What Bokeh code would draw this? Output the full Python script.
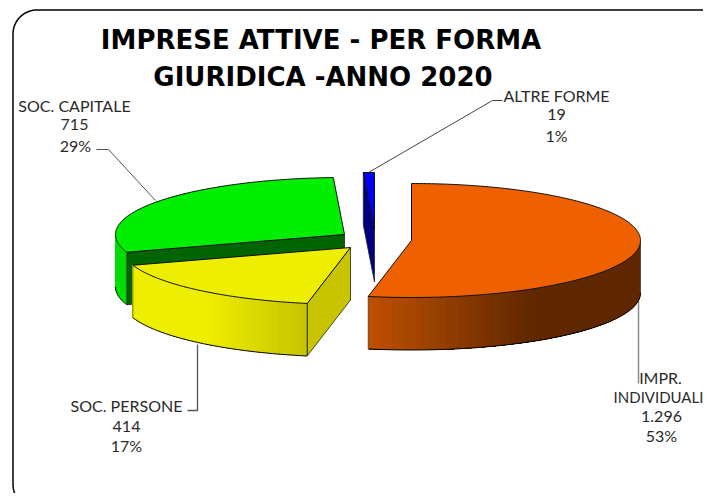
import math
from bokeh.plotting import figure
from bokeh.models import Range1d
from bokeh.core.properties import value
from bokeh.embed import file_html
from bokeh.resources import INLINE

# ---- data ----
categories = ["IMPR. INDIVIDUALI", "SOC. PERSONE", "SOC. CAPITALE", "ALTRE FORME"]
values = [1296, 414, 715, 19]
value_labels = ["1.296", "414", "715", "19"]
percent_labels = ["53%", "17%", "29%", "1%"]
title_lines = ["IMPRESE ATTIVE - PER FORMA", "GIURIDICA -ANNO 2020"]

# ---- layout (picture pixels) ----
RX, RY, DEPTH = 229.0, 57.0, 52.5
apex = [(411, 240), (350, 247), (344, 234), (374, 229)]
top_col = ["#EE6000", "#EEEE00", "#00EE00", "#0000FF"]
FONT = "Lato"
TITLE_FONT = "DejaVu Sans"

W, H = 703, 493
p = figure(width=W, height=H, x_range=Range1d(0, W), y_range=Range1d(H, 0),
           output_backend="svg", toolbar_location=None, min_border=0)
p.axis.visible = False
p.grid.visible = False
p.outline_line_color = None
p.background_fill_color = "white"


def pt(c, a):
    r = math.radians(a)
    return c[0] + RX * math.sin(r), c[1] - RY * math.cos(r)


def arc(c, a0, a1):
    n = max(2, int(abs(a1 - a0)) + 2)
    pts = [pt(c, a0 + (a1 - a0) * i / (n - 1)) for i in range(n)]
    return [q[0] for q in pts], [q[1] for q in pts]


def lerp_hex(c0, c1, t):
    t = max(0.0, min(1.0, t))
    a = [int(c0[i:i + 2], 16) for i in (1, 3, 5)]
    b = [int(c1[i:i + 2], 16) for i in (1, 3, 5)]
    return "#%02x%02x%02x" % tuple(round(x + (y - x) * t) for x, y in zip(a, b))


def wall(c, a0, a1, colfun, step=1.5):
    """outer wall a0..a1: overlapping polygons painted in turn, so no seams appear"""
    n = max(1, int(abs(a1 - a0) / step))
    for i in range(n):
        b0 = a0 + (a1 - a0) * i / n
        x, y = arc(c, b0, a1)
        xs = x + x[::-1]
        ys = y + [v + DEPTH for v in y[::-1]]
        xm = pt(c, b0 + (a1 - a0) / (2 * n))[0]
        p.patch(xs, ys, fill_color=colfun(xm), line_color=None)
    x, y = arc(c, a0, a1)
    p.line(x, [v + DEPTH for v in y], line_color="black", line_width=1)


def radial(c, a, col):
    x, y = pt(c, a)
    p.patch([c[0], x, x, c[0]], [c[1], y, y + DEPTH, c[1] + DEPTH],
            fill_color=col, line_color="#222222", line_width=0.8)


def top(c, a0, a1, col):
    x, y = arc(c, a0, a1)
    p.patch([c[0]] + x, [c[1]] + y, fill_color=col, line_color="#111111", line_width=1)


# cumulative angles clockwise from 12 o'clock
total = sum(values)
bounds = [0.0]
for v in values:
    bounds.append(bounds[-1] + 360.0 * v / total)

# frame with rounded corners
R, L, T, RI, B = 24.0, 12.5, 9.5, 725.0, 508.0
fx, fy = [], []
for cx, cy, s in [(L + R, T + R, 180), (RI - R, T + R, 270), (RI - R, B - R, 0), (L + R, B - R, 90)]:
    for k in range(0, 91, 5):
        r = math.radians(s + k)
        fx.append(cx + R * math.cos(r))
        fy.append(cy + R * math.sin(r))
fx.append(fx[0]); fy.append(fy[0])
p.line(fx, fy, line_color="black", line_width=1.5)

# leader lines
p.line([96, 108, 155], [149, 149, 200], line_color="#555555", line_width=1)
p.line([187, 197, 197], [410, 410, 344], line_color="#555555", line_width=1.3)
p.line([368, 492, 502], [172, 100, 100], line_color="#444444", line_width=1)
p.line([638, 638], [300, 383], line_color="#888888", line_width=1.5)

# SOC. CAPITALE (behind)
c = apex[2]; a0, a1 = bounds[2], bounds[3]
wall(c, a0, 270.0, lambda x: "#00DD00")
radial(c, a0, "#006400")
top(c, a0, a1, top_col[2])

# SOC. PERSONE
c = apex[1]; a0, a1 = bounds[1], bounds[2]
radial(c, a0, "#C8C400")
wall(c, a0, a1, lambda x: lerp_hex("#EEEE00", "#C8C400", (x - 205) / 100.0))
x0, y0 = pt(c, a0)
p.line([x0, x0], [y0, y0 + DEPTH], line_color="#333300", line_width=1)
x1, y1 = pt(c, a1)
p.line([x1, x1], [y1, y1 + DEPTH], line_color="#555500", line_width=0.8)
top(c, a0, a1, top_col[1])

# ALTRE FORME
c = apex[3]; a0, a1 = bounds[3], bounds[4]
radial(c, a0, "#000080")
top(c, a0, a1, top_col[3])

# IMPR. INDIVIDUALI
c = apex[0]; a0, a1 = bounds[0], bounds[1]
wall(c, 90.0, a1, lambda x: lerp_hex("#602800", "#C05000", (530 - x) / 162.0))
x1, y1 = pt(c, a1)
p.line([x1, x1], [y1, y1 + DEPTH], line_color="#555555", line_width=0.8)
xe, ye = pt(c, 90.0)
p.line([xe, xe], [ye, ye + DEPTH], line_color="#444444", line_width=0.8)
top(c, a0, a1, top_col[0])


def label(x, y, s, size=16, style="normal", color="#2a2a2a", font=FONT):
    p.text([x], [y], text=[s], text_font=value(font), text_font_size=f"{size}px",
           text_font_style=style, text_color=color, text_align="center", text_baseline="middle")


# title
label(320.5, 39, title_lines[0], 26, "bold", "#000000", TITLE_FONT)
label(322.5, 76, title_lines[1], 26, "bold", "#000000", TITLE_FONT)

# data labels
i0, i1 = categories[0].split(" ")
label(660, 377, i0)
label(658, 396, i1, 15)
label(661, 416, value_labels[0])
label(661, 435, percent_labels[0])

label(126, 405, categories[1])
label(126, 426, value_labels[1])
label(126, 445, percent_labels[1])

label(74, 105, categories[2])
label(74, 124, value_labels[2])
label(75, 145, percent_labels[2])

label(556, 95, categories[3])
label(556, 114, value_labels[3])
label(556, 135, percent_labels[3])

open("out.html", "w").write(file_html(p, INLINE))
